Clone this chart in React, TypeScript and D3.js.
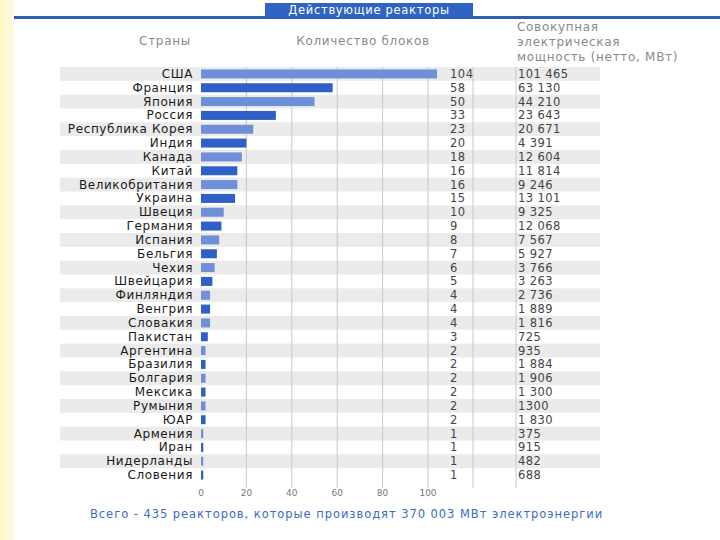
import * as d3 from "d3";

const countries = [
  "США", "Франция", "Япония", "Россия", "Республика Корея", "Индия", "Канада",
  "Китай", "Великобритания", "Украина", "Швеция", "Германия", "Испания",
  "Бельгия", "Чехия", "Швейцария", "Финляндия", "Венгрия", "Словакия",
  "Пакистан", "Аргентина", "Бразилия", "Болгария", "Мексика", "Румыния",
  "ЮАР", "Армения", "Иран", "Нидерланды", "Словения",
];
const units = [104, 58, 50, 33, 23, 20, 18, 16, 16, 15, 10, 9, 8, 7, 6, 5, 4, 4, 4, 3, 2, 2, 2, 2, 2, 2, 1, 1, 1, 1];
const capacity = [
  "101 465", "63 130", "44 210", "23 643", "20 671", "4 391", "12 604",
  "11 814", "9 246", "13 101", "9 325", "12 068", "7 567", "5 927", "3 766",
  "3 263", "2 736", "1 889", "1 816", "725", "935", "1 884", "1 906",
  "1 300", "1300", "1 830", "375", "915", "482", "688",
];
const ticks = [0, 20, 40, 60, 80, 100];

const title = "Действующие реакторы";
const footer = "Всего - 435 реакторов, которые производят 370 003 МВт электроэнергии";

const font = "Verdana, 'DejaVu Sans', sans-serif";

export default function App() {
  const width = 720;
  const height = 540;

  const x = d3.scaleLinear().domain([0, 100]).range([201, 428]);
  const y = d3.scaleBand<string>()
    .domain(countries)
    .range([67, 482])
    .paddingInner(0);
  const bh = 9;

  return (
    <svg
      width={width}
      height={height}
      style={{ position: "absolute", left: 0, top: 0, background: "#fff" }}
      fontFamily={font}
    >
      <defs>
        <linearGradient id="side" x1="0" x2="1">
          <stop offset="0" stopColor="#fff6c4" />
          <stop offset="1" stopColor="#fffbe6" />
        </linearGradient>
      </defs>
      <rect x={0} y={0} width={14} height={height} fill="url(#side)" />

      {/* title banner */}
      <rect x={14} y={16} width={width - 14} height={3} fill="#2e5fb0" />
      <rect x={265} y={3} width={208} height={15} fill="#2f63c4" />
      <text x={369} y={14} fill="#fff" fontSize={11.5} letterSpacing={0.7} textAnchor="middle">{title}</text>

      {/* headers */}
      <g fill="#8a8a8a" fontSize={12} letterSpacing={0.7}>
        <text x={165} y={45} textAnchor="middle">Страны</text>
        <text x={363} y={45} textAnchor="middle">Количество блоков</text>
        <text x={517} y={31}>Совокупная</text>
        <text x={517} y={46}>электрическая</text>
        <text x={517} y={61}>мощность (нетто, МВт)</text>
      </g>

      {/* stripes */}
      {countries.map((c, i) =>
        i % 2 === 0 ? (
          <rect key={c} x={60} y={y(c)!} width={540} height={y.bandwidth()} fill="#ebebeb" />
        ) : null
      )}

      {/* grid */}
      {ticks.slice(1).map((t) => (
        <line key={t} x1={x(t)} x2={x(t)} y1={67} y2={488} stroke="#c8c8c8" />
      ))}
      <line x1={473} x2={473} y1={67} y2={488} stroke="#c8c8c8" />
      <line x1={516} x2={516} y1={67} y2={488} stroke="#c8c8c8" />

      {/* bars */}
      {countries.map((c, i) => (
        <rect
          key={c}
          x={x(0)}
          y={y(c)! + (y.bandwidth() - bh) / 2}
          width={x(units[i]) - x(0)}
          height={bh}
          fill={i % 2 === 0 ? "#6f8fd8" : "#2f60c8"}
        />
      ))}

      {/* labels */}
      {countries.map((c, i) => {
        const cy = y(c)! + y.bandwidth() / 2 + 4;
        return (
          <g key={c}>
            <text x={193} y={cy} fontSize={12} fill="#1a1a1a" letterSpacing={0.6} textAnchor="end">{c}</text>
            <text x={450} y={cy} fontSize={11.5} fill="#444" letterSpacing={0.5}>{units[i]}</text>
            <text x={518} y={cy} fontSize={11.5} fill="#444" letterSpacing={0.4}>{capacity[i]}</text>
          </g>
        );
      })}

      {/* x ticks */}
      {ticks.map((t) => (
        <text key={t} x={x(t)} y={496} fontSize={9} fill="#777" textAnchor="middle">{t}</text>
      ))}

      <text x={90} y={518} fontSize={11.5} fill="#3a6cc4" letterSpacing={0.95}>{footer}</text>
    </svg>
  );
}
